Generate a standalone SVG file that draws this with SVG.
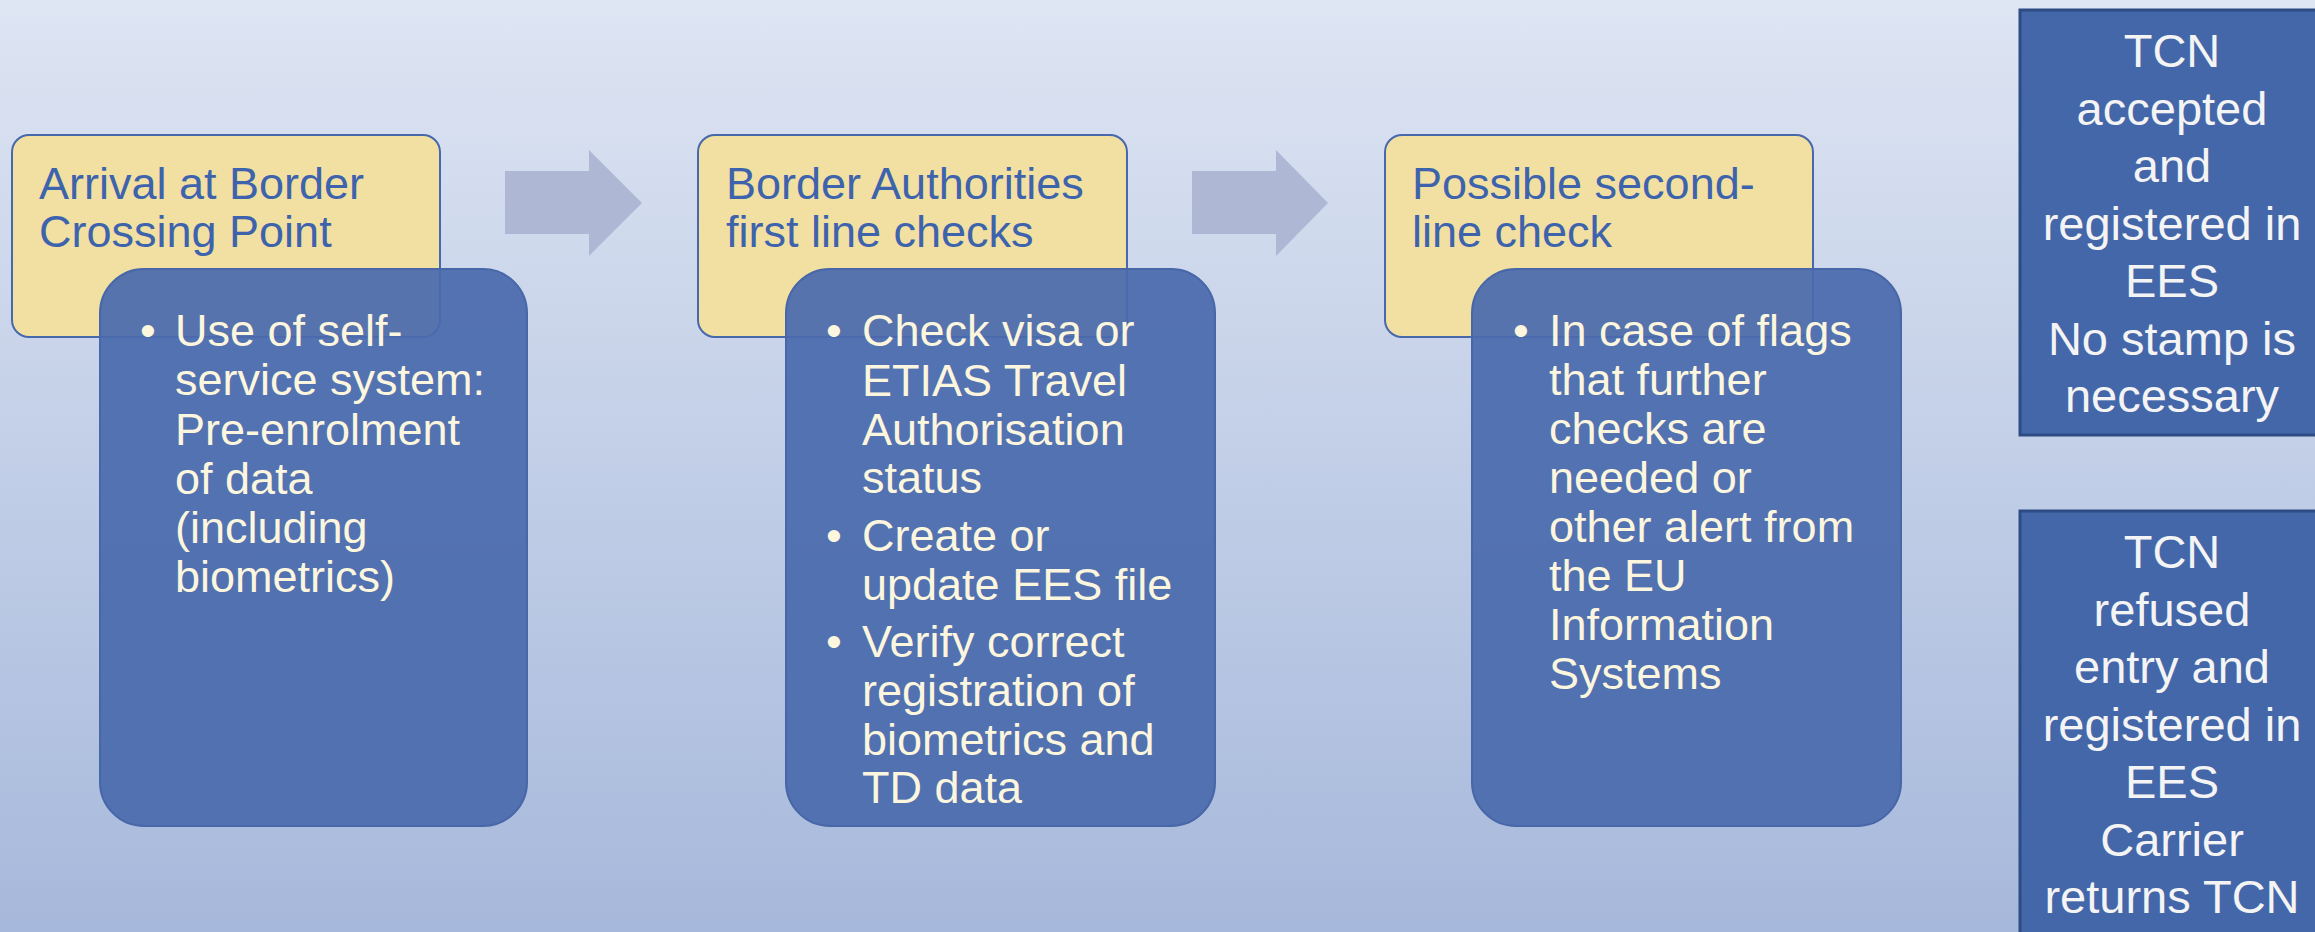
<svg xmlns="http://www.w3.org/2000/svg" width="2315" height="932" viewBox="0 0 2315 932">
<defs>
<linearGradient id="bg" x1="0" y1="0" x2="0" y2="1">
<stop offset="0" stop-color="#DEE5F3"/>
<stop offset="1" stop-color="#A6B8DB"/>
</linearGradient>
<style>
.ybox{fill:#F2E0A2;stroke:#4868AC;stroke-width:2}
.bbox{fill:#4A6BAD;fill-opacity:0.93;stroke:#4767A8;stroke-width:2}
.rbox{fill:#4467A9;stroke:#2E4C84;stroke-width:3}
.arrow{fill:#AEB7D3}
.yt{font-family:"Liberation Sans",Arial,sans-serif;font-size:45px;fill:#3E63AD}
.bt{font-family:"Liberation Sans",Arial,sans-serif;font-size:45px;fill:#FCF6DE}
.rt{font-family:"Liberation Sans",Arial,sans-serif;font-size:47px;fill:#F4F4F4;text-anchor:middle}
</style>
</defs>
<rect x="0" y="0" width="2315" height="932" fill="url(#bg)"/>

<g id="connectors">
<polygon class="arrow" points="505,171 589,171 589,150 642,203 589,256 589,234 505,234"/>
<polygon class="arrow" points="1192,171 1276,171 1276,150 1328,203 1276,256 1276,234 1192,234"/>
</g>

<g id="step1">
<rect class="ybox" x="12" y="135" width="428" height="202" rx="17"/>
<text class="yt"><tspan x="39" y="199">Arrival at Border</tspan><tspan x="39" y="247">Crossing Point</tspan></text>
<rect class="bbox" x="100" y="269" width="427" height="557" rx="44"/>
<text class="bt"><tspan x="140" y="346">•</tspan><tspan x="175" y="346">Use of self-</tspan><tspan x="175" y="395">service system:</tspan><tspan x="175" y="444.5">Pre-enrolment</tspan><tspan x="175" y="493.5">of data</tspan><tspan x="175" y="542.5">(including</tspan><tspan x="175" y="591.5">biometrics)</tspan></text>
</g>

<g id="step2">
<rect class="ybox" x="698" y="135" width="429" height="202" rx="17"/>
<text class="yt"><tspan x="726" y="199">Border Authorities</tspan><tspan x="726" y="247">first line checks</tspan></text>
<rect class="bbox" x="786" y="269" width="429" height="557" rx="44"/>
<text class="bt"><tspan x="826" y="346">•</tspan><tspan x="862" y="346">Check visa or</tspan><tspan x="862" y="395.5">ETIAS Travel</tspan><tspan x="862" y="444.5">Authorisation</tspan><tspan x="862" y="493">status</tspan><tspan x="826" y="551">•</tspan><tspan x="862" y="551">Create or</tspan><tspan x="862" y="599.5">update EES file</tspan><tspan x="826" y="657">•</tspan><tspan x="862" y="657">Verify correct</tspan><tspan x="862" y="705.5">registration of</tspan><tspan x="862" y="754.5">biometrics and</tspan><tspan x="862" y="803">TD data</tspan></text>
</g>

<g id="step3">
<rect class="ybox" x="1385" y="135" width="428" height="202" rx="17"/>
<text class="yt"><tspan x="1412" y="199">Possible second-</tspan><tspan x="1412" y="247">line check</tspan></text>
<rect class="bbox" x="1472" y="269" width="429" height="557" rx="44"/>
<text class="bt"><tspan x="1513" y="346">•</tspan><tspan x="1549" y="346">In case of flags</tspan><tspan x="1549" y="395">that further</tspan><tspan x="1549" y="444">checks are</tspan><tspan x="1549" y="493">needed or</tspan><tspan x="1549" y="542">other alert from</tspan><tspan x="1549" y="591">the EU</tspan><tspan x="1549" y="640">Information</tspan><tspan x="1549" y="689">Systems</tspan></text>
</g>

<g id="outcome-accepted">
<rect class="rbox" x="2020" y="10" width="310" height="425"/>
<text class="rt"><tspan x="2172" y="67">TCN</tspan><tspan x="2172" y="124.5">accepted</tspan><tspan x="2172" y="182">and</tspan><tspan x="2172" y="239.5">registered in</tspan><tspan x="2172" y="297">EES</tspan><tspan x="2172" y="354.5">No stamp is</tspan><tspan x="2172" y="412">necessary</tspan></text>
</g>

<g id="outcome-refused">
<rect class="rbox" x="2020" y="511" width="310" height="440"/>
<text class="rt"><tspan x="2172" y="568">TCN</tspan><tspan x="2172" y="625.5">refused</tspan><tspan x="2172" y="683">entry and</tspan><tspan x="2172" y="740.5">registered in</tspan><tspan x="2172" y="798">EES</tspan><tspan x="2172" y="855.5">Carrier</tspan><tspan x="2172" y="913">returns TCN</tspan></text>
</g>
</svg>
